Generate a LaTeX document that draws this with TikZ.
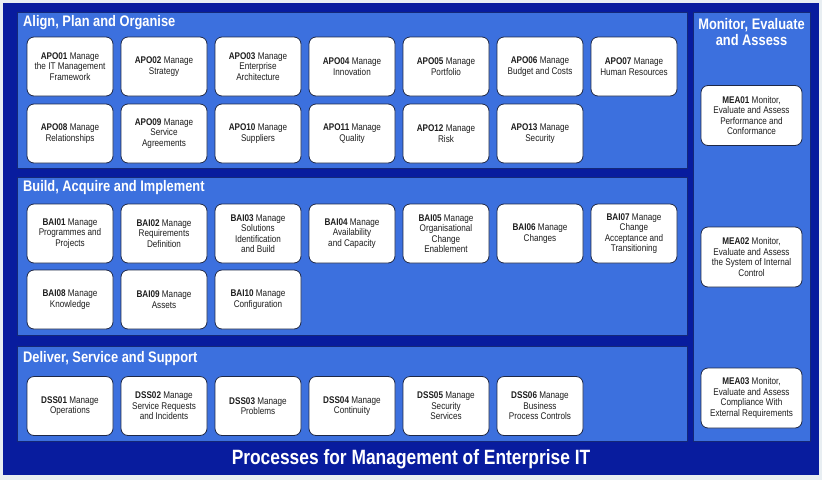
\documentclass[tikz,border=0pt]{standalone}
\usepackage{fontspec}
\setmainfont{Liberation Sans}[FakeStretch=0.84]
\definecolor{bgout}{RGB}{232,238,242}
\definecolor{navy}{RGB}{8,28,158}
\definecolor{panel}{RGB}{60,112,222}
\definecolor{panelline}{RGB}{20,40,120}
\definecolor{boxline}{RGB}{30,40,70}
\definecolor{txt}{RGB}{30,30,30}
\begin{document}
\begin{tikzpicture}[x=1pt,y=-1pt,
  proc/.style={draw=boxline, fill=white, rounded corners=7pt, minimum width=86, minimum height=59,
    align=center, font=\fontsize{9.7}{10.4}\selectfont, text=txt, inner sep=1pt, line width=0.8pt},
  mea/.style={proc, minimum width=101, minimum height=60},
  pan/.style={fill=panel, draw=panelline, line width=0.6pt},
  head/.style={anchor=west, text=white, font=\fontsize{15.3}{17}\selectfont\bfseries, inner sep=0pt}]
\useasboundingbox (0,0) rectangle (822,480);
\fill[bgout] (0,0) rectangle (822,480);
\fill[navy] (3,3) rectangle (819,475);
% panels
\draw[pan] (17,12) rectangle (687,168);
\draw[pan] (17,177) rectangle (687,335);
\draw[pan] (17,346) rectangle (687,441);
\draw[pan] (693,12) rectangle (810,441);
% headers
\node[head] (hapo) at (23,23) {Align, Plan and Organise};
\node[head] (hbai) at (23,188) {Build, Acquire and Implement};
\node[head] (hdss) at (23,359) {Deliver, Service and Support};
\node[text=white, align=center, font=\fontsize{15.3}{16}\selectfont\bfseries, inner sep=0pt] (hmea) at (751.5,32) {Monitor, Evaluate\\and Assess};
% APO row 1
\node[proc] (apo01) at (70,66.5) {\textbf{APO01} Manage\\the IT Management\\Framework};
\node[proc] (apo02) at (164,66.5) {\textbf{APO02} Manage\\Strategy};
\node[proc] (apo03) at (258,66.5) {\textbf{APO03} Manage\\Enterprise\\Architecture};
\node[proc] (apo04) at (352,66.5) {\textbf{APO04} Manage\\Innovation};
\node[proc] (apo05) at (446,66.5) {\textbf{APO05} Manage\\Portfolio};
\node[proc] (apo06) at (540,66.5) {\textbf{APO06} Manage\\Budget and Costs};
\node[proc] (apo07) at (634,66.5) {\textbf{APO07} Manage\\Human Resources};
% APO row 2
\node[proc] (apo08) at (70,133.5) {\textbf{APO08} Manage\\Relationships};
\node[proc] (apo09) at (164,133.5) {\textbf{APO09} Manage\\Service\\Agreements};
\node[proc] (apo10) at (258,133.5) {\textbf{APO10} Manage\\Suppliers};
\node[proc] (apo11) at (352,133.5) {\textbf{APO11} Manage\\Quality};
\node[proc] (apo12) at (446,133.5) {\textbf{APO12} Manage\\Risk};
\node[proc] (apo13) at (540,133.5) {\textbf{APO13} Manage\\Security};
% BAI row 1
\node[proc] (bai01) at (70,233.5) {\textbf{BAI01} Manage\\Programmes and\\Projects};
\node[proc] (bai02) at (164,233.5) {\textbf{BAI02} Manage\\Requirements\\Definition};
\node[proc] (bai03) at (258,233.5) {\textbf{BAI03} Manage\\Solutions\\Identification\\and Build};
\node[proc] (bai04) at (352,233.5) {\textbf{BAI04} Manage\\Availability\\and Capacity};
\node[proc] (bai05) at (446,233.5) {\textbf{BAI05} Manage\\Organisational\\Change\\Enablement};
\node[proc] (bai06) at (540,233.5) {\textbf{BAI06} Manage\\Changes};
\node[proc] (bai07) at (634,233.5) {\textbf{BAI07} Manage\\Change\\Acceptance and\\Transitioning};
% BAI row 2
\node[proc] (bai08) at (70,299.5) {\textbf{BAI08} Manage\\Knowledge};
\node[proc] (bai09) at (164,299.5) {\textbf{BAI09} Manage\\Assets};
\node[proc] (bai10) at (258,299.5) {\textbf{BAI10} Manage\\Configuration};
% DSS
\node[proc] (dss01) at (70,406) {\textbf{DSS01} Manage\\Operations};
\node[proc] (dss02) at (164,406) {\textbf{DSS02} Manage\\Service Requests\\and Incidents};
\node[proc] (dss03) at (258,406) {\textbf{DSS03} Manage\\Problems};
\node[proc] (dss04) at (352,406) {\textbf{DSS04} Manage\\Continuity};
\node[proc] (dss05) at (446,406) {\textbf{DSS05} Manage\\Security\\Services};
\node[proc] (dss06) at (540,406) {\textbf{DSS06} Manage\\Business\\Process Controls};
% MEA
\node[mea] (mea01) at (751.5,115.5) {\textbf{MEA01} Monitor,\\Evaluate and Assess\\Performance and\\Conformance};
\node[mea] (mea02) at (751.5,257) {\textbf{MEA02} Monitor,\\Evaluate and Assess\\the System of Internal\\Control};
\node[mea] (mea03) at (751.5,398) {\textbf{MEA03} Monitor,\\Evaluate and Assess\\Compliance With\\External Requirements};
% title
\node[text=white, font=\fontsize{20.7}{22}\selectfont\bfseries, inner sep=0pt] (title) at (411,459) {Processes for Management of Enterprise IT};
\end{tikzpicture}
\end{document}
